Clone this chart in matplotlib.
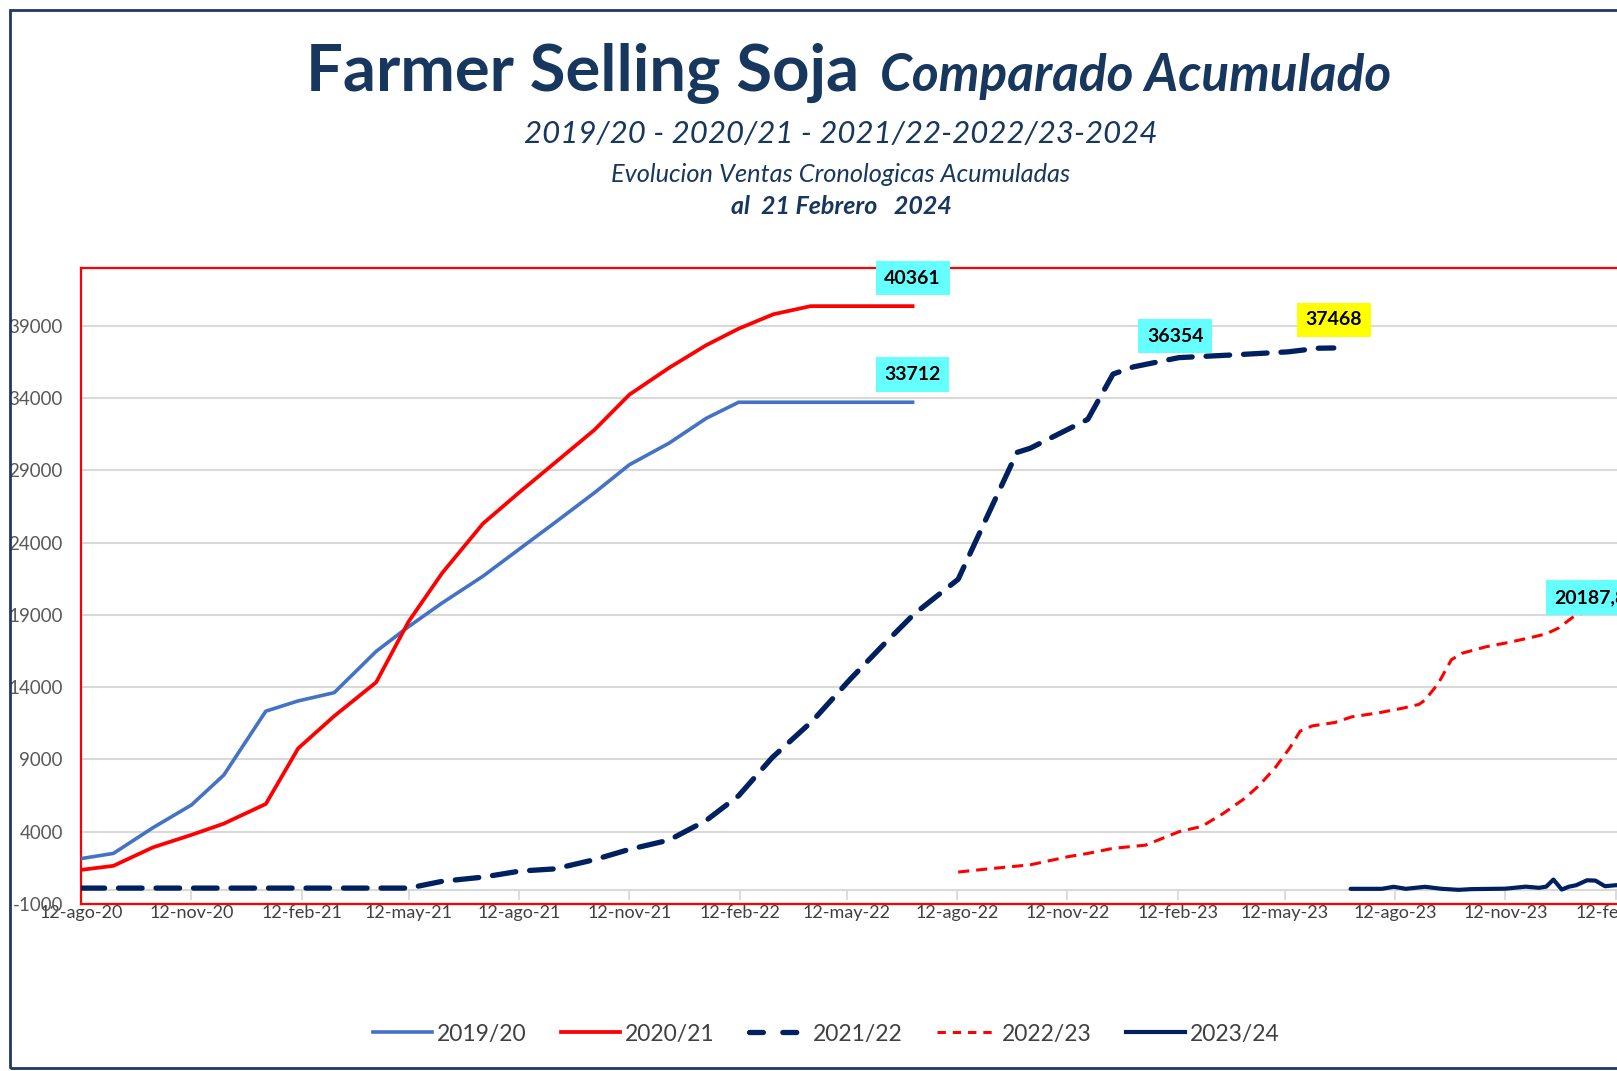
import matplotlib
matplotlib.use("Agg")
import matplotlib.pyplot as plt
import matplotlib.dates as mdates
from matplotlib.lines import Line2D
from matplotlib.patches import Rectangle
import pandas as pd

# ─── data ────────────────────────────────────────────────────────────────
dates_early = ["2020-08-12", "2020-09-08", "2020-10-11", "2020-11-12", "2020-12-09",
               "2021-01-13", "2021-02-09", "2021-03-11", "2021-04-15", "2021-05-12",
               "2021-06-09", "2021-07-13", "2021-08-13", "2021-09-11", "2021-10-14",
               "2021-11-12", "2021-12-15", "2022-01-15", "2022-02-11", "2022-03-12",
               "2022-04-12", "2022-05-12", "2022-06-12", "2022-07-06"]
vals_1920 = [2140, 2500, 4280, 5850, 7920, 12340, 13050, 13620, 16480, 18190,
             19830, 21680, 23600, 25390, 27460, 29390, 30880, 32600, 33712, 33712,
             33712, 33712, 33712, 33712]
vals_2021 = [1360, 1640, 2920, 3780, 4560, 5920, 9770, 12000, 14340, 18540,
             21900, 25320, 27530, 29530, 31810, 34240, 36090, 37660, 38800, 39800,
             40361, 40361, 40361, 40361]

dates_2122 = ["2020-08-12", "2020-09-08", "2020-10-11", "2020-11-12", "2020-12-09",
              "2021-01-13", "2021-02-09", "2021-03-11", "2021-04-15", "2021-05-12",
              "2021-06-09", "2021-07-13", "2021-08-13", "2021-09-11", "2021-10-14",
              "2021-11-12", "2021-12-15", "2022-01-15", "2022-02-11", "2022-03-11",
              "2022-04-14", "2022-05-15", "2022-06-13", "2022-07-07", "2022-08-13",
              "2022-09-07", "2022-10-01", "2022-10-12", "2022-11-29", "2022-12-20",
              "2023-01-06", "2023-02-13", "2023-04-02", "2023-05-15", "2023-06-09",
              "2023-06-22"]
vals_2122 = [100, 100, 100, 100, 100, 100, 100, 100, 100, 100,
             570, 860, 1280, 1430, 2070, 2780, 3420, 4780, 6490, 9130,
             11700, 14550, 17050, 19040, 21470, 25960, 30240, 30530, 32530, 35660,
             36160, 36800, 37000, 37200, 37450, 37468]

dates_2223 = ["2022-08-13", "2022-09-07", "2022-10-12", "2022-11-13", "2022-11-29",
              "2022-12-20", "2023-01-16", "2023-02-13", "2023-03-04", "2023-03-22",
              "2023-04-09", "2023-04-21", "2023-05-04", "2023-05-16", "2023-05-25",
              "2023-06-04", "2023-06-23", "2023-07-07", "2023-07-29", "2023-08-18",
              "2023-09-01", "2023-09-06", "2023-09-17", "2023-09-28", "2023-10-07",
              "2023-10-27", "2023-11-15", "2023-12-04", "2023-12-16", "2023-12-26",
              "2024-01-09", "2024-02-21"]
vals_2223 = [1210, 1430, 1710, 2280, 2500, 2850, 3070, 4000, 4370, 5270,
             6320, 7220, 8410, 9760, 10960, 11320, 11560, 11950, 12220, 12540,
             12810, 13110, 14250, 15900, 16350, 16800, 17100, 17450, 17690, 18080,
             18950, 20187.8]

dates_2324 = ["2023-07-06", "2023-08-01", "2023-08-11", "2023-08-21", "2023-09-06",
              "2023-09-20", "2023-10-04", "2023-10-15", "2023-11-12", "2023-11-29",
              "2023-12-10", "2023-12-16", "2023-12-22", "2023-12-29", "2024-01-04",
              "2024-01-10", "2024-01-19", "2024-01-26", "2024-02-03", "2024-02-12",
              "2024-02-21"]
vals_2324 = [50, 50, 190, 50, 190, 50, -20, 30, 60, 200,
             120, 200, 690, 0, 200, 300, 640, 620, 230, 300, 300]

series_labels = ["2019/20", "2020/21", "2021/22", "2022/23", "2023/24"]

# data labels: (text, date, value, offset px, box colour)
point_labels = [
    ("40361", "2022-07-06", 40361, (0, 28), "#66FFFF"),
    ("33712", "2022-07-06", 33712, (0, 28), "#66FFFF"),
    ("36354", "2023-02-10", 36354, (0, 28), "#66FFFF"),
    ("37468", "2023-06-22", 37468, (0, 28), "#FFFF00"),
    ("20187,8", "2024-02-21", 20187.8, (-36, 0), "#66FFFF"),
]

meses = ["ene", "feb", "mar", "abr", "may", "jun", "jul", "ago", "sep", "oct", "nov", "dic"]
tick_dates = pd.date_range("2020-08-01", "2024-05-01", freq="3MS") + pd.Timedelta(days=11)
y_ticks = [-1000, 4000, 9000, 14000, 19000, 24000, 29000, 34000, 39000]

NAVY = "#17375E"
plt.rcParams["font.family"] = ["Lato", "DejaVu Sans"]
plt.rcParams["lines.scale_dashes"] = False

W, H = 1617, 1071
fig = plt.figure(figsize=(W / 100, H / 100), dpi=100)

# outer frame (right side runs off the picture)
fig.patches.append(Rectangle((10 / W, 3 / H), 2, (H - 13) / H, transform=fig.transFigure,
                             fill=False, ec="#1F3864", lw=2))

x0 = pd.Timestamp("2020-08-12")
ax = fig.add_axes([81 / W, 167 / H, 1680 / W, 636 / H])
ax.set_xlim(x0, x0 + pd.Timedelta(days=1400))
ax.set_ylim(-1000, 43000)

ax.plot(pd.to_datetime(dates_early), vals_1920, color="#4472C4", lw=2.6, zorder=3)
ax.plot(pd.to_datetime(dates_early), vals_2021, color="#FF0000", lw=2.7, zorder=3)
ax.plot(pd.to_datetime(dates_2122), vals_2122, color="#002060", lw=3.8, zorder=3,
        dashes=(17, 10), dash_capstyle="round")
ax.plot(pd.to_datetime(dates_2223), vals_2223, color="#FF0000", lw=2.2, zorder=3,
        dashes=(8, 5))
ax.plot(pd.to_datetime(dates_2324), vals_2324, color="#002060", lw=3.0, zorder=3,
        solid_capstyle="round")

for txt, d, v, off, fc in point_labels:
    ax.annotate(txt, xy=(pd.Timestamp(d), v), xytext=(off[0] * 0.72, off[1] * 0.72),
                textcoords="offset points", ha="center", va="center",
                fontsize=14, fontweight="bold", color="black", zorder=5,
                bbox=dict(boxstyle="square,pad=0.45", fc=fc, ec="none"))

# axes styling
ax.set_yticks(y_ticks)
ax.set_yticklabels([str(v) for v in y_ticks])
ax.grid(axis="y", color="#D9D9D9", lw=1.5)
ax.set_axisbelow(True)
ax.axhline(0, color="#D9D9D9", lw=1.5, zorder=1)
ax.tick_params(axis="y", length=0, pad=13, labelsize=13.5, labelcolor="#595959")
ax.set_xticks(tick_dates)
ax.set_xticklabels([f"12-{meses[d.month - 1]}-{d.year % 100:02d}" for d in tick_dates])
ax.tick_params(axis="x", length=0, pad=1, labelsize=13, labelcolor="#404040")
for side in ["top", "left", "bottom", "right"]:
    ax.spines[side].set_color("#FF0000")
    ax.spines[side].set_linewidth(1.6)

# tick marks hanging below the zero line
sec = ax.secondary_xaxis(1000 / 44000)
sec.set_xticks(mdates.date2num(tick_dates))
sec.set_xticklabels([])
sec.tick_params(axis="x", length=7, width=1.3, color="#D9D9D9", direction="out")
for sp in sec.spines.values():
    sp.set_visible(False)

# titles
fig.text(859 / W, 1 - 91 / H, "Farmer Selling Soja", ha="right", va="baseline",
         fontsize=47, fontweight="bold", color=NAVY)
fig.text(880 / W, 1 - 91 / H, "Comparado Acumulado", ha="left", va="baseline",
         fontsize=37, fontweight="bold", style="italic", color=NAVY)
fig.text(841 / W, 1 - 134 / H, "2019/20 - 2020/21 - 2021/22-2022/23-2024", ha="center",
         va="center", fontsize=22.5, style="italic", color=NAVY)
fig.text(841 / W, 1 - 174 / H, "Evolucion Ventas Cronologicas Acumuladas", ha="center",
         va="center", fontsize=18.3, style="italic", color=NAVY)
fig.text(841 / W, 1 - 206 / H, "al  21 Febrero   2024", ha="center", va="center",
         fontsize=18, style="italic", fontweight="bold", color=NAVY)

# legend
handles = [
    Line2D([], [], color="#4472C4", lw=2.6),
    Line2D([], [], color="#FF0000", lw=2.7),
    Line2D([], [], color="#002060", lw=3.8, dashes=(10, 14), dash_capstyle="round"),
    Line2D([], [], color="#FF0000", lw=2.2, dashes=(6, 5)),
    Line2D([], [], color="#002060", lw=3.0),
]
fig.legend(handles, series_labels, loc="center", bbox_to_anchor=(826 / W, 1 - 1034 / H),
           ncol=5, frameon=False, fontsize=16.5, handlelength=2.6, handletextpad=0.2,
           columnspacing=1.5, labelcolor="#404040")

fig.savefig("out.png", dpi=100)
